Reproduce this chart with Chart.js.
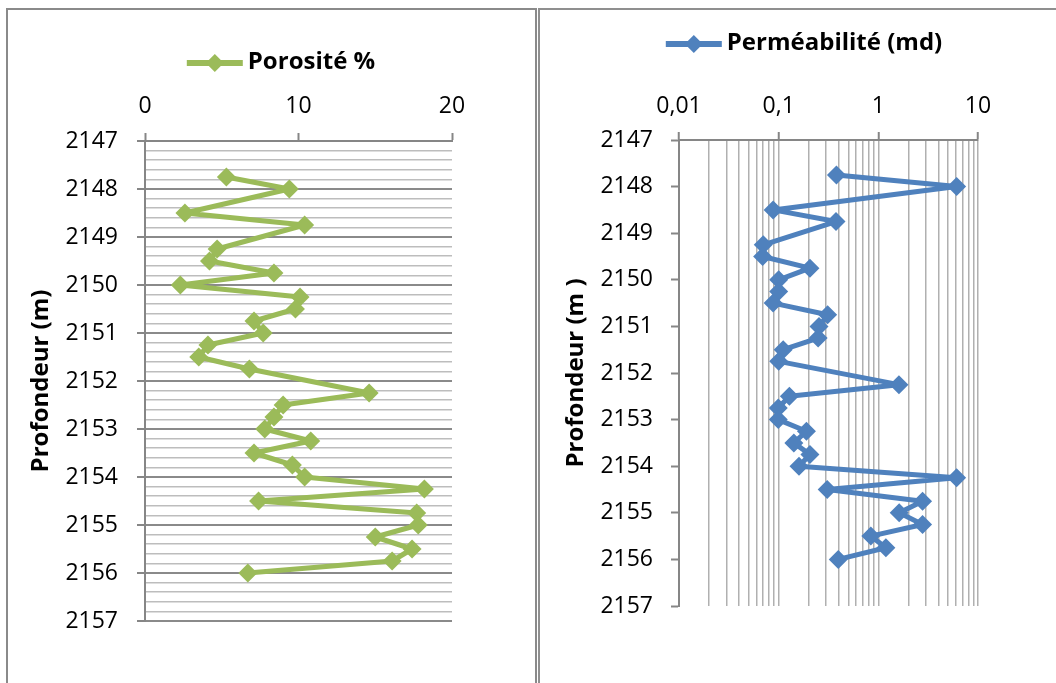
<!DOCTYPE html>
<html><head><meta charset="utf-8">
<script src="https://cdn.jsdelivr.net/npm/chart.js@4.4.1/dist/chart.umd.min.js"></script>
<style>
html,body{margin:0;padding:0;background:#fff;width:1056px;height:683px;overflow:hidden;}
.box{position:absolute;box-sizing:border-box;}
#b1{left:6px;top:8px;width:531px;height:720px;border:2px solid #8a8a8a;}
#b2{left:538px;top:8px;width:600px;height:720px;border:2px solid #8f8f8f;}
canvas{position:absolute;top:0;}
#c1{left:0}
#c2{left:537px}
</style></head><body>
<div class="box" id="b1"></div><div class="box" id="b2"></div>
<canvas id="c1" width="537" height="683"></canvas>
<canvas id="c2" width="519" height="683"></canvas>
<script>
// ---- data ----
const depths = [2147.75, 2148, 2148.5, 2148.75, 2149.25, 2149.5, 2149.75, 2150, 2150.25, 2150.5,
  2150.75, 2151, 2151.25, 2151.5, 2151.75, 2152.25, 2152.5, 2152.75, 2153, 2153.25,
  2153.5, 2153.75, 2154, 2154.25, 2154.5, 2154.75, 2155, 2155.25, 2155.5, 2155.75, 2156];
const porosity = [5.3, 9.4, 2.6, 10.4, 4.7, 4.2, 8.4, 2.3, 10.1, 9.8,
  7.1, 7.7, 4.1, 3.5, 6.8, 14.6, 9.0, 8.4, 7.8, 10.8,
  7.1, 9.6, 10.4, 18.2, 7.4, 17.7, 17.8, 15.0, 17.4, 16.1, 6.7];
const permeability = [0.38, 6.1, 0.088, 0.376, 0.070, 0.069, 0.206, 0.10, 0.10, 0.088,
  0.31, 0.254, 0.249, 0.111, 0.10, 1.61, 0.128, 0.099, 0.099, 0.19,
  0.142, 0.206, 0.16, 6.1, 0.307, 2.78, 1.62, 2.78, 0.84, 1.19, 0.396];
const depthMin = 2147, depthMax = 2157;
const porosityTicks = [0, 10, 20];
const permDecades = [0.01, 0.1, 1, 10];
const permMultipliers = [1, 2, 3, 4, 5, 6, 7, 8, 9];
const porosityLabel = 'Porosité %';
const permLabel = 'Perméabilité (md)';
const depthTitleLeft = 'Profondeur (m)';
const depthTitleRight = 'Profondeur (m )';

// ---- helpers ----
const FONT = "'Open Sans', sans-serif";
Chart.defaults.font.family = FONT;
Chart.defaults.color = '#000';
const AXIS = '#868686';
const TICK_SIZE = 23;
const isInt = v => Math.abs(v - Math.round(v)) < 1e-6;
const isPow10 = v => { const l = Math.log10(v); return Math.abs(l - Math.round(l)) < 1e-9; };
const permGridValues = [];
permDecades.slice(0, -1).forEach(d => permMultipliers.forEach(m => permGridValues.push(+(d * m).toPrecision(6))));
permGridValues.push(permDecades[permDecades.length - 1]);

const legendLine = {
  id: 'legendLine',
  afterDraw(chart, args, o) {
    const ctx = chart.ctx;
    ctx.save();
    ctx.font = o.font;
    const tw = ctx.measureText(o.text).width;
    const total = o.lineLen + o.gap + tw;
    const x0 = o.cx - total / 2;
    ctx.strokeStyle = o.color; ctx.lineWidth = o.lineWidth;
    ctx.beginPath(); ctx.moveTo(x0, o.cy); ctx.lineTo(x0 + o.lineLen, o.cy); ctx.stroke();
    const mx = x0 + o.lineLen / 2, r = o.radius;
    ctx.fillStyle = o.color;
    ctx.beginPath(); ctx.moveTo(mx - r, o.cy); ctx.lineTo(mx, o.cy - r); ctx.lineTo(mx + r, o.cy); ctx.lineTo(mx, o.cy + r); ctx.closePath(); ctx.fill();
    ctx.fillStyle = '#000'; ctx.textBaseline = 'middle'; ctx.textAlign = 'left';
    ctx.fillText(o.text, x0 + o.lineLen + o.gap, o.cy + o.textDy);
    ctx.restore();
  }
};

function seriesDataset(vals, color) {
  return {
    data: depths.map((d, i) => ({ x: vals[i], y: d })),
    showLine: true, borderColor: color, backgroundColor: color, borderWidth: 5,
    borderJoinStyle: 'round', borderCapStyle: 'round',
    pointStyle: 'rectRot', pointRadius: 9.5, pointHoverRadius: 9.5, pointBorderWidth: 0,
    tension: 0, clip: false
  };
}

// ---- left chart: porosity ----
new Chart(document.getElementById('c1'), {
  type: 'scatter',
  data: { datasets: [seriesDataset(porosity, '#9BBB59')] },
  plugins: [legendLine],
  options: {
    responsive: false, animation: false, events: [],
    layout: { padding: { left: 0, right: 85, top: 20, bottom: 62 } },
    plugins: {
      legend: { display: false }, tooltip: { enabled: false },
      legendLine: { text: porosityLabel, color: '#9BBB59', cx: 281, cy: 63, lineLen: 56, gap: 5, lineWidth: 6, radius: 9, textDy: -1, font: "bold 24px " + FONT }
    },
    scales: {
      x: {
        type: 'linear', position: 'top', min: porosityTicks[0], max: porosityTicks[porosityTicks.length - 1],
        afterBuildTicks: s => { s.ticks = porosityTicks.map(v => ({ value: v })); },
        ticks: { padding: 13, font: { size: TICK_SIZE }, color: '#000', maxRotation: 0, autoSkip: false,
          callback: v => String(v) },
        grid: { drawOnChartArea: false, drawTicks: true, tickLength: 8, tickColor: AXIS, tickWidth: 2 },
        border: { color: AXIS, width: 2 },
        afterFit: s => { s.height = 121; }
      },
      y: {
        type: 'linear', reverse: true, min: depthMin, max: depthMax,
        ticks: { stepSize: 0.2, autoSkip: false, padding: 19, font: { size: TICK_SIZE }, color: '#000',
          callback: v => isInt(v) ? String(Math.round(v)) : '' },
        grid: {
          color: c => isInt(c.tick.value) ? '#8a8a8a' : '#bdbdbd',
          lineWidth: c => isInt(c.tick.value) ? 2 : 1.5,
          tickColor: c => isInt(c.tick.value) ? AXIS : 'rgba(0,0,0,0)',
          tickLength: 8, tickWidth: 2
        },
        border: { color: AXIS, width: 2 },
        title: { display: true, text: depthTitleLeft, font: { size: 24, weight: 'bold' }, color: '#000', padding: { top: 27, bottom: 0 } },
        afterFit: s => { s.width = 145; }
      }
    }
  }
});

// ---- right chart: permeability ----
new Chart(document.getElementById('c2'), {
  type: 'scatter',
  data: { datasets: [seriesDataset(permeability, '#4F81BD')] },
  plugins: [legendLine],
  options: {
    responsive: false, animation: false, events: [],
    layout: { padding: { left: 0, right: 78, top: 20, bottom: 77 } },
    plugins: {
      legend: { display: false }, tooltip: { enabled: false },
      legendLine: { text: permLabel, color: '#4F81BD', cx: 267, cy: 44, lineLen: 56, gap: 5, lineWidth: 6, radius: 9, textDy: -1, font: "bold 24px " + FONT }
    },
    scales: {
      x: {
        type: 'logarithmic', position: 'top', min: permDecades[0], max: permDecades[permDecades.length - 1],
        afterBuildTicks: s => { s.ticks = permGridValues.map(v => ({ value: v, major: false })); },
        ticks: { padding: 12, font: { size: TICK_SIZE }, color: '#000', maxRotation: 0, minRotation: 0, autoSkip: false,
          callback: v => isPow10(v) ? String(v).replace('.', ',') : '' },
        grid: {
          color: '#b0b0b0', lineWidth: 1.5,
          tickColor: c => isPow10(c.tick.value) ? AXIS : 'rgba(0,0,0,0)',
          tickLength: 8, tickWidth: 2
        },
        border: { color: AXIS, width: 2 },
        afterFit: s => { s.height = 120; }
      },
      y: {
        type: 'linear', reverse: true, min: depthMin, max: depthMax,
        ticks: { stepSize: 1, autoSkip: false, padding: 18, font: { size: TICK_SIZE }, color: '#000',
          callback: v => String(Math.round(v)) },
        grid: { drawOnChartArea: false, tickColor: AXIS, tickLength: 8, tickWidth: 2 },
        border: { color: AXIS, width: 2 },
        title: { display: true, text: depthTitleRight, font: { size: 24, weight: 'bold' }, color: '#000', padding: { top: 25, bottom: 0 } },
        afterFit: s => { s.width = 142; }
      }
    }
  }
});
</script>
</body></html>
